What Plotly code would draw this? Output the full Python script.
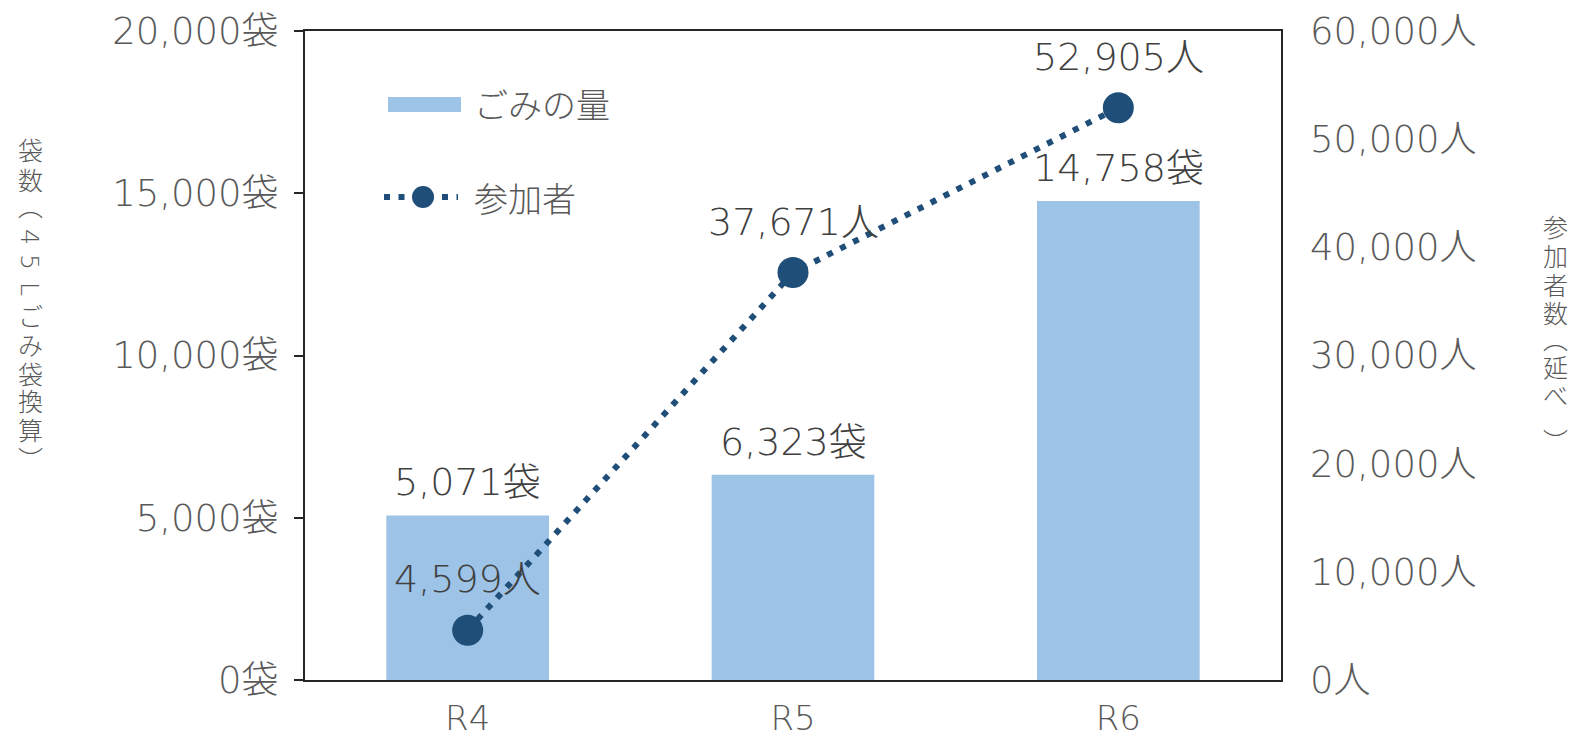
import plotly.graph_objects as go

# --- data ---
years = ["R4", "R5", "R6"]
bags = [5071, 6323, 14758]            # ごみの量 (45L袋換算)
participants = [4599, 37671, 52905]   # 参加者 (延べ)

bag_ticks = [0, 5000, 10000, 15000, 20000]
person_ticks = [0, 10000, 20000, 30000, 40000, 50000, 60000]

# --- styling ---
W, H = 1575, 737
L, R, T, B = 305, 1281, 31, 680          # plot area in pixels
NUM_FONT = "DejaVu Sans, Noto Sans CJK JP"
CJK_FONT = "Noto Sans CJK JP"
TICK_GREY = "#595959"
LABEL_GREY = "#404040"
BAR_BLUE = "#9DC3E6"
LINE_BLUE = "#1F4E79"
AXIS_COL = "#262626"
TICK_SIZE = 37
LABEL_SIZE = 38


def px_x(px):
    return (px - L) / (R - L)


def px_y(py):
    return (B - py) / (B - T)


fig = go.Figure()

fig.add_trace(go.Bar(
    x=years, y=bags, name="ごみの量",
    marker=dict(color=BAR_BLUE, line=dict(width=0)),
    width=0.5, showlegend=False, yaxis="y",
))

fig.add_trace(go.Scatter(
    x=years, y=participants, name="参加者",
    mode="lines+markers",
    line=dict(color=LINE_BLUE, width=6, dash="6px,8.5px"),
    marker=dict(color=LINE_BLUE, size=31),
    showlegend=False, yaxis="y2",
))

annotations = []

# value labels
for yr, v in zip(years, bags):
    annotations.append(dict(
        x=yr, y=v, xref="x", yref="y", text=f"{v:,}袋", showarrow=False,
        yanchor="middle", yshift=33,
        font=dict(family=NUM_FONT, size=LABEL_SIZE, color=LABEL_GREY, weight=300),
    ))
for yr, v in zip(years, participants):
    annotations.append(dict(
        x=yr, y=v, xref="x", yref="y2", text=f"{v:,}人", showarrow=False,
        yanchor="middle", yshift=51,
        font=dict(family=NUM_FONT, size=LABEL_SIZE, color=LABEL_GREY, weight=300),
    ))


def vertical_title(chars, cx, centres, size, sideways=()):
    """Vertical writing: one annotation per character, Latin set sideways."""
    out = []
    for i, (ch, cy) in enumerate(zip(chars, centres)):
        out.append(dict(
            x=px_x(cx), y=px_y(cy), xref="paper", yref="paper",
            text=ch, showarrow=False, xanchor="center", yanchor="middle",
            textangle=90 if i in sideways else 0,
            font=dict(family=NUM_FONT, size=size, color=TICK_GREY, weight=300),
        ))
    return out


left_title = ["袋", "数", "︵", "4", "5", "L", "ご", "み", "袋", "換", "算", "︶"]
left_centres = [152, 181, 207, 237, 262, 289, 317, 346, 375, 403, 431, 460]
annotations += vertical_title(left_title, 30, left_centres, 25,
                              sideways=(3, 4, 5))

right_title = ["参", "加", "者", "数", "︵", "延", "べ", "︶"]
right_centres = [228, 257, 286, 314, 340, 368, 397, 442]
annotations += vertical_title(right_title, 1555, right_centres, 25)

# legend text
annotations.append(dict(
    x=px_x(472), y=px_y(104), xref="paper", yref="paper", text="ごみの量",
    showarrow=False, xanchor="left", yanchor="middle",
    font=dict(family=CJK_FONT, size=34, color=TICK_GREY, weight=300),
))
annotations.append(dict(
    x=px_x(472), y=px_y(197), xref="paper", yref="paper", text="参加者",
    showarrow=False, xanchor="left", yanchor="middle",
    font=dict(family=CJK_FONT, size=34, color=TICK_GREY, weight=300),
))

# legend swatches
shapes = [
    dict(type="rect", xref="paper", yref="paper",
         x0=px_x(388), x1=px_x(461), y0=px_y(112), y1=px_y(97),
         fillcolor=BAR_BLUE, line=dict(width=0)),
    dict(type="line", xref="paper", yref="paper",
         x0=px_x(384), x1=px_x(458), y0=px_y(197), y1=px_y(197),
         line=dict(color=LINE_BLUE, width=6, dash="6px,8.5px")),
    dict(type="circle", xref="paper", yref="paper",
         x0=px_x(412), x1=px_x(434), y0=px_y(208), y1=px_y(186),
         fillcolor=LINE_BLUE, line=dict(width=0)),
]

fig.update_layout(
    width=W, height=H,
    margin=dict(l=L, r=W - R, t=T, b=H - B, autoexpand=False),
    paper_bgcolor="white", plot_bgcolor="white",
    font=dict(family=NUM_FONT, size=TICK_SIZE, color=TICK_GREY),
    xaxis=dict(
        automargin=False,
        showline=True, linecolor=AXIS_COL, linewidth=2, mirror=True,
        showgrid=False, ticks="",
        tickfont=dict(family=NUM_FONT, size=34, color=TICK_GREY, weight=300),
        ticklabelstandoff=7,
    ),
    yaxis=dict(
        automargin=False,
        range=[0, 20000], tickmode="array", tickvals=bag_ticks,
        ticktext=[f"{v:,}袋" for v in bag_ticks],
        showline=True, linecolor=AXIS_COL, linewidth=2, mirror=True,
        ticks="outside", ticklen=9, tickwidth=2, tickcolor=AXIS_COL,
        showgrid=False, zeroline=False,
        tickfont=dict(family=NUM_FONT, size=TICK_SIZE, color=TICK_GREY, weight=300),
        ticklabelstandoff=8,
    ),
    yaxis2=dict(
        automargin=False,
        range=[0, 60000], tickmode="array", tickvals=person_ticks,
        ticktext=[f"{v:,}人" for v in person_ticks],
        overlaying="y", side="right", showgrid=False, zeroline=False,
        showline=False, ticks="",
        tickfont=dict(family=NUM_FONT, size=TICK_SIZE, color=TICK_GREY, weight=300),
        ticklabelstandoff=28,
    ),
    annotations=annotations,
    shapes=shapes,
)

fig.write_html("out.html")
